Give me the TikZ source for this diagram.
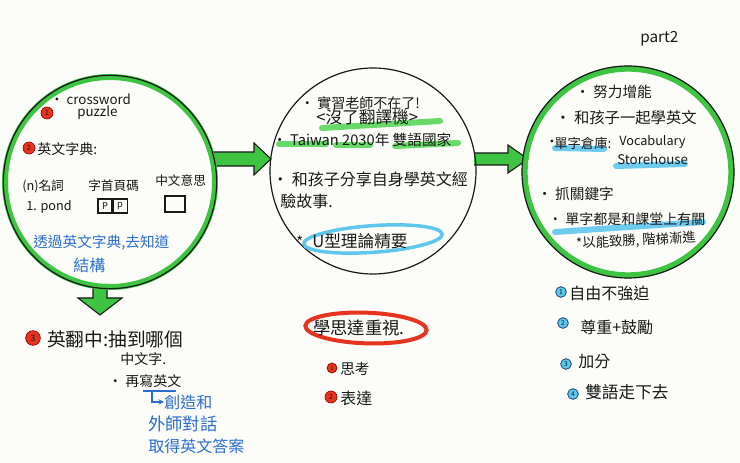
\documentclass[tikz,border=0pt]{standalone}
\usepackage{fontspec}
\setmainfont{Noto Sans CJK TC}
\usetikzlibrary{calc,shapes.geometric}
\definecolor{mkgreen}{RGB}{62,196,66}
\definecolor{hlgreen}{RGB}{80,212,80}
\definecolor{hlblue}{RGB}{95,198,236}
\definecolor{penblue}{RGB}{45,110,205}
\definecolor{mkred}{RGB}{230,52,32}
\definecolor{ink}{RGB}{25,25,25}
\definecolor{paper}{RGB}{252,252,249}
\begin{document}
\begin{tikzpicture}[x=0.75pt,y=-0.75pt,
  txt/.style={anchor=west,inner sep=0pt,text=ink,font=\fontsize{#1}{#1}\selectfont},
  btxt/.style={txt=#1,text=penblue},
  greenring/.style={circle,draw=mkgreen,line width=4.5pt,minimum size=#1,inner sep=0pt},
  inkring/.style={circle,draw=ink,line width=0.9pt,minimum size=#1,inner sep=0pt},
  blockarrow/.style={fill=mkgreen,draw=ink,line width=0.8pt,line join=miter},
  hlg/.style={draw=hlgreen,line width=4.5pt,line cap=round,opacity=0.85},
  hlb/.style={draw=hlblue,line width=4.5pt,line cap=round,opacity=0.9},
  redmark/.style={circle,fill=mkred,draw=red!55!black,line width=0.5pt,inner sep=0pt,minimum size=9pt,text=ink,font=\fontsize{5.5}{5.5}\selectfont},
  bluemark/.style={circle,fill=hlblue,draw=penblue!60!black,line width=0.6pt,inner sep=0pt,minimum size=8pt,text=ink,font=\fontsize{5}{5}\selectfont},
  smallbox/.style={draw=ink,line width=0.8pt,inner sep=0pt,minimum width=#1,minimum height=10.5pt,text=ink,font=\fontsize{7}{7}\selectfont}
]
\useasboundingbox (0,0) rectangle (740,463);
\fill[paper] (0,0) rectangle (740,463);

% ---- block arrows (drawn under the circles)
\coordinate (a1s) at (213,159);
\coordinate (a1t) at (271,159);
\draw[blockarrow] ($(a1s)+(0,-7)$) -- ($(a1t)+(-17,-7)$) -- ($(a1t)+(-17,-16)$) -- (a1t)
  -- ($(a1t)+(-17,16)$) -- ($(a1t)+(-17,7)$) -- ($(a1s)+(0,7)$);
\coordinate (a2s) at (474,159);
\coordinate (a2t) at (528,159);
\draw[blockarrow] ($(a2s)+(0,-6)$) -- ($(a2t)+(-20,-6)$) -- ($(a2t)+(-20,-14)$) -- (a2t)
  -- ($(a2t)+(-20,14)$) -- ($(a2t)+(-20,6)$) -- ($(a2s)+(0,6)$);
\coordinate (a3s) at (100,284);
\coordinate (a3t) at (100,315);
\draw[blockarrow] ($(a3s)+(-7,0)$) -- ($(a3t)+(-7,-17)$) -- ($(a3t)+(-22,-17)$) -- (a3t)
  -- ($(a3t)+(22,-17)$) -- ($(a3t)+(7,-17)$) -- ($(a3s)+(7,0)$);

% ---- circles
\node[greenring=157.5pt] (Lg) at (110,182) {};
\node[inkring=160pt] (L) at (110,182) {};
\node[inkring=154.5pt] (M) at (373,171) {};
\node[greenring=155pt] (Rg) at (628,172) {};
\node[inkring=159pt] (R) at (628,172) {};

% ---- highlights
\draw[hlg] (322,128) -- (440,121);
\draw[hlg] (279,144) -- (326,144);
\draw[hlg] (336,145) -- (370,145);
\draw[hlg] (395,146) -- (458,143);
\draw[hlb] (555,148) -- (604,149);
\draw[hlb] (616,166) -- (685,164);
\draw[hlb] (555,232) -- (703,222);
\node[ellipse,draw=hlblue,line width=2.6pt,minimum width=104pt,minimum height=20pt,rotate=4] (ovB) at (373,239) {};
\node[ellipse,draw=mkred,line width=3pt,minimum width=91pt,minimum height=23pt,rotate=-2] (ovR) at (366,328) {};

% ---- left circle text
\node[txt=10] (l1) at (50,99) {• crossword};
\node[txt=10] (l2) at (77,113) {puzzle};
\node[redmark] (lm1) at (47,113) {1};
\node[redmark] (lm2) at (29,148) {2};
\node[txt=10.5] (l3) at (37,149) {英文字典:};
\node[txt=9.5] (l4) at (22,186) {(n)名詞};
\node[txt=9.5] (l5) at (88,186) {字首頁碼};
\node[txt=9.5] (l6) at (155,181) {中文意思};
\node[txt=9.5] (l7) at (26,207) {1. pond};
\node[smallbox=10.5pt] (bx1) at (105,206) {P};
\node[smallbox=10.5pt,anchor=west] (bx2) at (bx1.east) {p};
\node[smallbox=15pt,minimum height=12pt] (bx3) at (175,204) {};
\node[btxt=11] (l8) at (33,243) {透過英文字典,去知道};
\node[btxt=12] (l9) at (73,265) {結構};

% ---- middle circle text
\node[txt=10.5] (c1) at (300,103) {• 實習老師不在了!};
\node[txt=12.5] (c2) at (316,117) {<沒了翻譯機>};
\node[txt=11] (c3) at (272,140) {• Taiwan 2030年 雙語國家};
\node[txt=12] (c4) at (272,179) {• 和孩子分享自身學英文經};
\node[txt=12] (c5) at (280,201) {驗故事.};
\node[txt=11] (c6) at (296,242) {*};
\node[txt=12.5] (c7) at (312,241) {U型理論精要};

% ---- right circle text
\node[txt=11] (r1) at (575,92) {• 努力增能};
\node[txt=11.5] (r2) at (555,118) {• 和孩子一起學英文};
\node[txt=10] (r3a) at (545,143) {•};
\node[txt=10] (r3) at (554,143) {單字倉庫:};
\node[txt=9.5] (r3b) at (619,142) {Vocabulary};
\node[txt=10] (r4) at (617,159) {Storehouse};
\node[txt=11] (r5) at (537,194) {• 抓關鍵字};
\node[txt=10.5] (r6) at (548,219) {• 單字都是和課堂上有關};
\node[txt=10,rotate=3] (r7) at (576,244) {*以能致勝, 階梯漸進};

% ---- part2
\node[txt=11.5] (p2) at (640,39) {part2};

% ---- bottom left
\node[redmark,minimum size=11pt,font=\fontsize{6.5}{6.5}\selectfont] (bm3) at (33,338) {3};
\node[txt=14] (b1) at (47,339) {英翻中:抽到哪個};
\node[txt=10.5] (b2) at (120,359) {中文字.};
\node[txt=10.5] (b3) at (108,381) {• 再寫英文};
\coordinate (ul1) at (143,391);
\coordinate (ul2) at (176,391);
\draw[penblue,line width=0.8pt] (ul1) -- (ul2);
\node[btxt=12] (b4) at (164,402) {創造和};
\draw[penblue,line width=0.8pt,-stealth] (152,391) |- (b4.west);
\node[btxt=13] (b5) at (148,424) {外師對話};
\node[btxt=12] (b6) at (148,446) {取得英文答案};

% ---- bottom middle
\node[txt=13] (h1) at (313,328) {學思達重視.};
\node[redmark,minimum size=7.5pt,font=\fontsize{4.5}{4.5}\selectfont] (hm1) at (332,368) {1};
\node[txt=11] (h2) at (340,369) {思考};
\node[redmark] (hm2) at (331,397) {2};
\node[txt=12] (h3) at (340,398) {表達};

% ---- bottom right
\node[bluemark] (rm1) at (561,292) {1};
\node[txt=12] (s1) at (569,293) {自由不強迫};
\node[bluemark] (rm2) at (563,323) {2};
\node[txt=12] (s2) at (580,327) {尊重+鼓勵};
\node[bluemark] (rm3) at (566,364) {3};
\node[txt=12] (s3) at (578,362) {加分};
\node[bluemark] (rm4) at (573,394) {4};
\node[txt=12.5] (s4) at (585,392) {雙語走下去};
\end{tikzpicture}
\end{document}
